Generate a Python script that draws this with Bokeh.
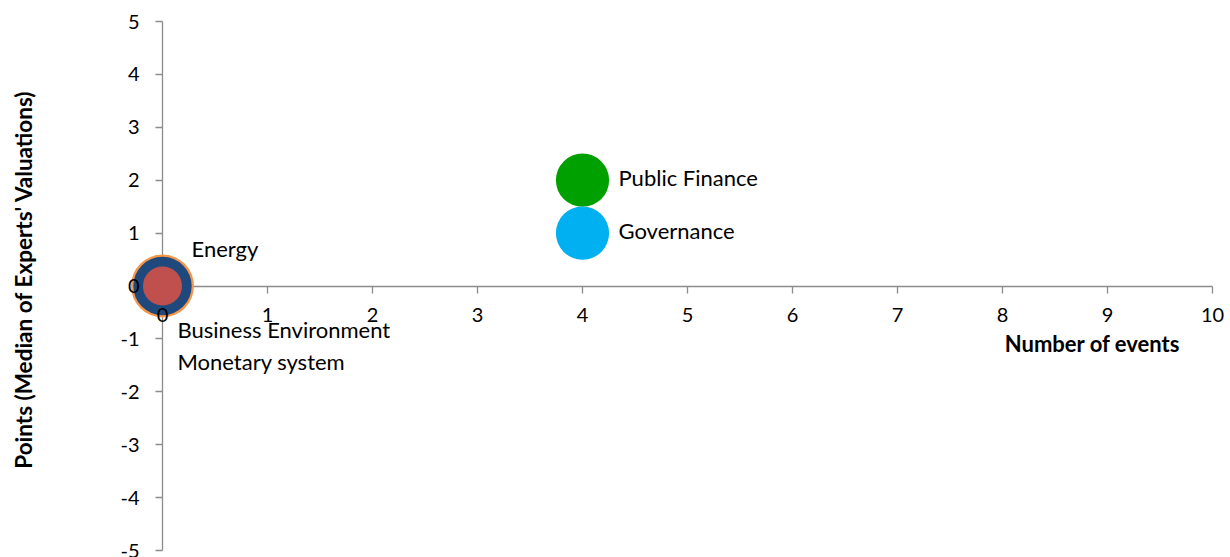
from bokeh.plotting import figure
from bokeh.models import (ColumnDataSource, Range1d, LinearAxis, FixedTicker, Label)
from bokeh.core.properties import value
from bokeh.embed import file_html
from bokeh.resources import INLINE
import math

# ---- data ----
names = ["Energy", "Business Environment", "Monetary system", "Public Finance", "Governance"]
events = [0, 0, 0, 4, 4]
points = [0, 0, 0, 2, 1]
bubble_size = [7.0, 6.0, 2.7, 5.0, 5.0]
colors = ["#F79646", "#1F497D", "#C0504D", "#00A000", "#00B0F0"]
x_ticks = [0, 1, 2, 3, 4, 5, 6, 7, 8, 9, 10]
y_ticks = [-5, -4, -3, -2, -1, 0, 1, 2, 3, 4, 5]
x_title = "Number of events"
y_title = "Points (Median of Experts' Valuations)"

# ---- layout geometry (pixels) ----
W, H = 1230, 557
x0_px, px_per_x = 162.0, 105.0     # pixel of x = 0, pixels per x unit
y0_px, px_per_y = 285.5, 52.9      # pixel of y = 0 (from top), pixels per y unit
xs, xe = -x0_px / px_per_x, (W - x0_px) / px_per_x
ye, ys = y0_px / px_per_y, -(H - y0_px) / px_per_y

FONT = "Lato"
p = figure(width=W, height=H, output_backend="svg", toolbar_location=None,
           x_range=Range1d(xs, xe), y_range=Range1d(ys, ye),
           x_axis_location=None, y_axis_location=None,
           min_border_left=0, min_border_right=0,
           min_border_top=0, min_border_bottom=0)
p.outline_line_color = None
p.grid.visible = False
p.background_fill_color = "white"
p.border_fill_color = "white"

# bubbles: radius proportional to sqrt(size)
r_max = 31.5
vmax = max(bubble_size)
diam = [2 * r_max * math.sqrt(v / vmax) for v in bubble_size]
src = ColumnDataSource(dict(x=events, y=points, d=diam, c=colors, n=names))
p.scatter("x", "y", size="d", fill_color="c", line_color=None, source=src)


def make_axis(ticks, lines):
    ax = LinearAxis(fixed_location=0, ticker=FixedTicker(ticks=ticks),
                    bounds=(min(ticks), max(ticks)))
    ax.major_label_overrides = {t: str(t) for t in ticks}
    ax.minor_tick_line_color = None
    ax.major_tick_out = 7
    ax.major_tick_in = 0
    ax.major_label_text_font = FONT
    ax.major_label_text_font_size = "20px"
    if lines:
        # lines and ticks beneath the bubbles, labels hidden
        ax.level = "underlay"
        ax.axis_line_color = "#8C8C8C"
        ax.axis_line_width = 1.3
        ax.major_tick_line_color = "#8C8C8C"
        ax.major_tick_line_width = 1.3
        ax.major_label_text_alpha = 0
    else:
        # labels only, on top of the bubbles
        ax.axis_line_color = None
        ax.major_tick_line_color = None
        ax.major_label_text_color = "black"
    return ax


for lines in (True, False):
    xa = make_axis(x_ticks, lines)
    ya = make_axis(y_ticks, lines)
    xa.major_label_standoff = 15
    ya.major_label_standoff = 16
    p.add_layout(xa, "below")
    p.add_layout(ya, "left")

# data labels
offs_x = [29, 15, 15, 36, 36]
offs_y = [-38, 43, 75, -3, -3]
lab = ColumnDataSource(dict(x=events, y=points, t=names, ox=offs_x, oy=offs_y))
p.text("x", "y", text="t", x_offset="ox", y_offset="oy", source=lab,
       text_font=value(FONT), text_font_size="22px", text_color="black",
       text_baseline="middle", text_align="left")

# axis titles
p.add_layout(Label(x=1092, y=H - 343, x_units="screen", y_units="screen", text=x_title,
                   text_font=FONT, text_font_size="22px", text_font_style="bold",
                   text_color="black", text_align="center", text_baseline="middle"))
p.add_layout(Label(x=23, y=H - 279, x_units="screen", y_units="screen", text=y_title,
                   text_font=FONT, text_font_size="22.5px", text_font_style="bold",
                   text_color="black", text_align="center", text_baseline="middle",
                   angle=math.pi / 2))

open("out.html", "w").write(file_html(p, INLINE))
